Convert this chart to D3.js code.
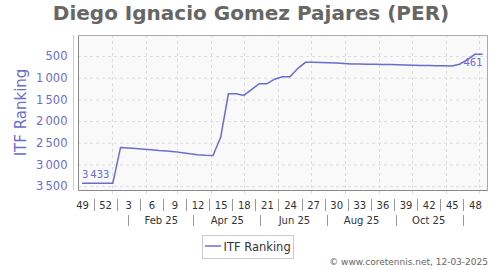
<!DOCTYPE html>
<html lang="en">
<head>
    <meta charset="UTF-8">
    <title>ITF Ranking</title>
    <script src="https://d3js.org/d3.v7.min.js"></script>
    <style>
        body { margin: 0; background: white; }
        text { font-family: "DejaVu Sans", Verdana, sans-serif; }
    </style>
</head>
<body>
    <svg id="svg1" width="500" height="270" style="background: white"></svg>

    <script>
        // data ---------------------------------------------------------------
        const firstWeek = "2024-12-05";     // thursday of ISO week 49, 2024
        const isoWeeks = [49, 50, 51, 52, 1, 2, 3, 4, 5, 6, 7, 8, 9, 10, 11, 12, 13, 14, 15, 16,
                          17, 18, 19, 20, 21, 22, 23, 24, 25, 26, 27, 28, 29, 30, 31, 32, 33, 34,
                          35, 36, 37, 38, 39, 40, 41, 42, 43, 44, 45, 46, 47, 48, 49];
        const ranking = [3433, 3433, 3433, 3433, 3433, 2608, 2620, 2635, 2648, 2660, 2678, 2690,
                         2705, 2730, 2755, 2775, 2788, 2795, 2377, 1370, 1370, 1408, 1275, 1140,
                         1140, 1035, 978, 978, 790, 646, 646, 650, 655, 662, 672, 682, 686, 689,
                         691, 693, 696, 700, 706, 712, 717, 721, 724, 727, 730, 690, 590, 461, 461];
        const yTicks = [500, 1000, 1500, 2000, 2500, 3000, 3500];
        const monthLabels = ["Feb 25", "Apr 25", "Jun 25", "Aug 25", "Oct 25"];
        const monthLabelDates = ["2025-02-15", "2025-04-16", "2025-06-16", "2025-08-16", "2025-10-16"];
        const monthSepDates = ["2025-01-16", "2025-03-16", "2025-05-16", "2025-07-16", "2025-09-16", "2025-11-16"];
        const seriesName = "ITF Ranking";
        const titleText = "Diego Ignacio Gomez Pajares (PER)";
        const creditText = "\u00a9 www.coretennis.net, 12-03-2025";

        // setup ---------------------------------------------------------------
        const svg = d3.select("svg#svg1");
        const plot = {left: 78, right: 487, top: 35, bottom: 190};
        const lineColor = "#6b6bd0";
        const parse = d3.timeParse("%Y-%m-%d");
        const start = parse(firstWeek);

        const data = ranking.map((r, i) => ({date: d3.timeDay.offset(start, 7 * i), week: isoWeeks[i], rank: r}));

        const xScale = d3.scaleTime()
            .domain([parse("2024-12-01"), parse("2025-12-08")])
            .range([77.6, plot.right]);
        const yScale = d3.scaleLinear().domain([15, 3590]).range([plot.top, plot.bottom]);

        const fmt = d3.formatLocale({decimal: ".", thousands: "\u2009", grouping: [3], currency: ["", ""]}).format(",d");

        // title
        svg.append("text")
            .text(titleText)
            .attr("x", 251).attr("y", 20)
            .attr("text-anchor", "middle")
            .attr("font-size", 20).attr("font-weight", "bold")
            .attr("fill", "#666");

        // plot background
        svg.append("rect")
            .attr("x", plot.left).attr("y", plot.top)
            .attr("width", plot.right - plot.left).attr("height", plot.bottom - plot.top)
            .attr("fill", "#f9f9f9");

        // grid ----------------------------------------------------------------
        const grid = svg.append("g").attr("id", "grid");
        grid.selectAll("line.h").data(yTicks).join("line")
            .attr("class", "h")
            .attr("x1", plot.left).attr("x2", plot.right)
            .attr("y1", d => yScale(d) + 0.5).attr("y2", d => yScale(d) + 0.5)
            .attr("stroke", "#ddd").attr("stroke-dasharray", "3,3");

        const months = d3.timeMonth.range(parse("2025-01-01"), parse("2025-12-02"));
        grid.selectAll("line.v").data(months).join("line")
            .attr("class", "v")
            .attr("x1", d => Math.round(xScale(d)) + 0.5).attr("x2", d => Math.round(xScale(d)) + 0.5)
            .attr("y1", plot.top).attr("y2", plot.bottom + 5)
            .attr("stroke", "#ddd").attr("stroke-dasharray", "3,3");

        // frame
        svg.append("path")
            .attr("d", `M${plot.left + 0.5},${plot.top + 0.5}H${plot.right + 0.5}V${plot.bottom + 0.5}`)
            .attr("fill", "none").attr("stroke", "#aaa");
        svg.append("path")
            .attr("d", `M${plot.left + 0.5},${plot.top + 0.5}V${plot.bottom + 0.5}H${plot.right + 0.5}`)
            .attr("fill", "none").attr("stroke", "#888");

        // y axis --------------------------------------------------------------
        const yAxis = svg.append("g")
            .attr("transform", `translate(73.5, 0)`)
            .call(d3.axisLeft(yScale).tickValues(yTicks).tickSize(0).tickPadding(6).tickFormat(fmt));
        yAxis.select(".domain").attr("d", `M0,${plot.top}V${plot.bottom}`).attr("stroke", "#c8c8ee");
        yAxis.selectAll("text")
            .attr("font-family", "DejaVu Sans").attr("font-size", 11.5)
            .attr("fill", lineColor);

        svg.append("text")
            .text(seriesName)
            .attr("transform", "translate(26, 112.5) rotate(-90)")
            .attr("text-anchor", "middle")
            .attr("font-size", 15)
            .attr("fill", lineColor);

        // x axis: week numbers and months ---------------------------------------
        const xAxis = svg.append("g").attr("id", "xaxis");
        const weekTicks = data.filter((d, i) => i % 3 === 0);
        xAxis.selectAll("text.week").data(weekTicks).join("text")
            .attr("class", "week")
            .text(d => d.week)
            .attr("x", d => xScale(d.date) + 0.5).attr("y", 209)
            .attr("text-anchor", "middle")
            .attr("font-size", 10).attr("fill", "#333");

        xAxis.selectAll("line.wsep").data(d3.pairs(weekTicks)).join("line")
            .attr("class", "wsep")
            .attr("x1", d => Math.round((xScale(d[0].date) + xScale(d[1].date)) / 2) + 0.5)
            .attr("x2", d => Math.round((xScale(d[0].date) + xScale(d[1].date)) / 2) + 0.5)
            .attr("y1", 199).attr("y2", 211)
            .attr("stroke", "#999");

        xAxis.selectAll("text.month").data(monthLabels).join("text")
            .attr("class", "month")
            .text(d => d)
            .attr("x", (d, i) => xScale(parse(monthLabelDates[i])))
            .attr("y", 223.5)
            .attr("text-anchor", "middle")
            .attr("font-size", 10).attr("fill", "#333");

        xAxis.selectAll("line.msep").data(monthSepDates).join("line")
            .attr("class", "msep")
            .attr("x1", d => Math.round(xScale(parse(d))) + 0.5)
            .attr("x2", d => Math.round(xScale(parse(d))) + 0.5)
            .attr("y1", 215).attr("y2", 226)
            .attr("stroke", "#999");

        // series line ----------------------------------------------------------
        const line = d3.line().x(d => xScale(d.date)).y(d => yScale(d.rank));
        svg.append("path")
            .datum(data)
            .attr("d", line)
            .attr("fill", "none")
            .attr("stroke", lineColor)
            .attr("stroke-width", 1.5);

        // first / last labels
        const first = data[0], last = data[data.length - 1];
        svg.append("text")
            .text(fmt(first.rank))
            .attr("x", xScale(first.date)).attr("y", yScale(first.rank) - 5)
            .attr("font-size", 10).attr("fill", lineColor);
        svg.append("text")
            .text(fmt(last.rank))
            .attr("x", xScale(last.date)).attr("y", yScale(last.rank) + 12)
            .attr("text-anchor", "end")
            .attr("font-size", 10).attr("fill", lineColor);

        // legend ----------------------------------------------------------------
        const legend = svg.append("g").attr("transform", "translate(202, 235)");
        legend.append("rect")
            .attr("x", 0.5).attr("y", 0.5).attr("width", 91).attr("height", 23)
            .attr("fill", "white").attr("stroke", "#ccc");
        legend.append("line")
            .attr("x1", 3).attr("x2", 19).attr("y1", 11).attr("y2", 11)
            .attr("stroke", lineColor).attr("stroke-width", 1.5);
        legend.append("text")
            .text(seriesName)
            .attr("x", 21.5).attr("y", 16)
            .attr("font-size", 11.5).attr("fill", "#333");

        // credit
        svg.append("text")
            .text(creditText)
            .attr("x", 488).attr("y", 264.5)
            .attr("text-anchor", "end")
            .attr("font-size", 9).attr("fill", "#666");
    </script>
</body>
</html>
